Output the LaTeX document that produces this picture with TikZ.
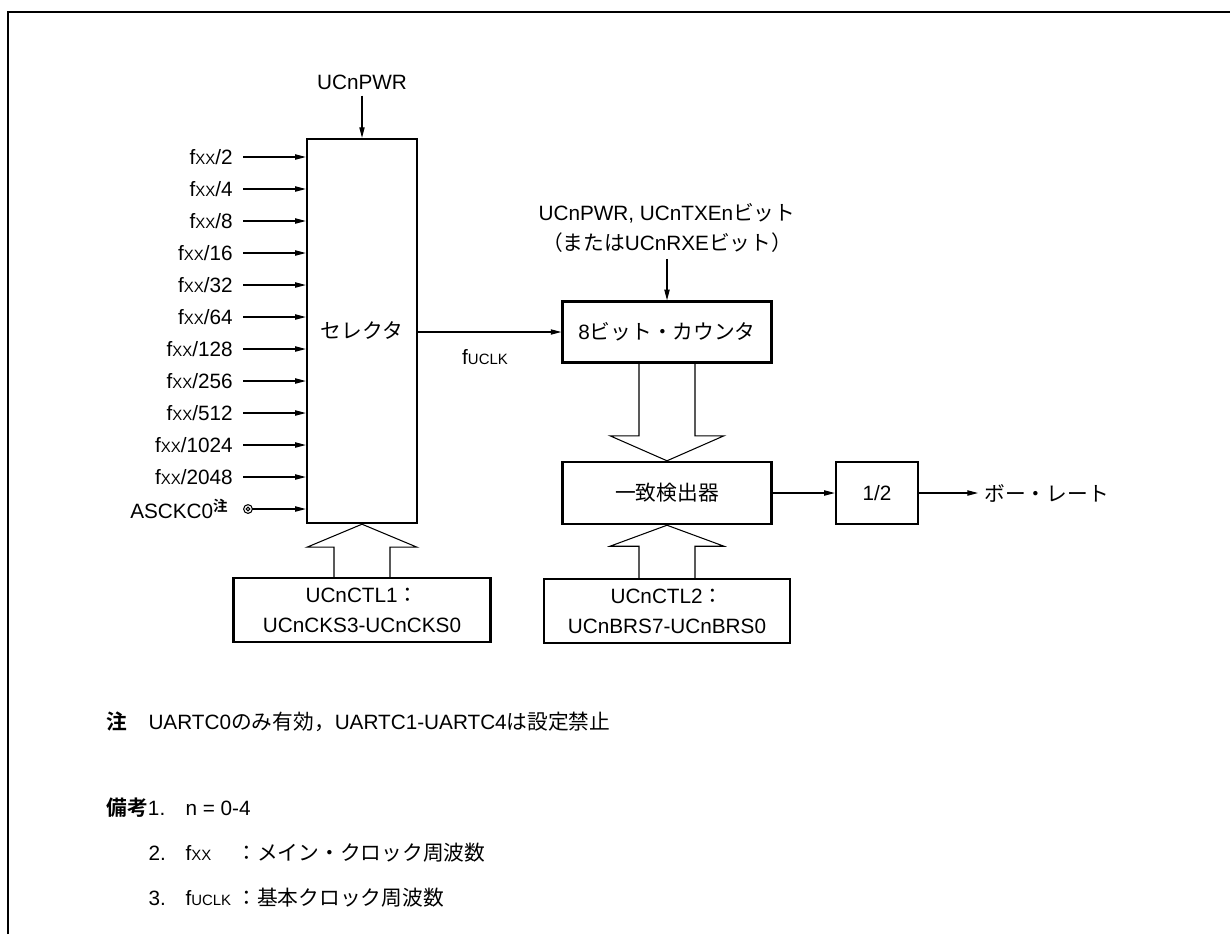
\documentclass[tikz,border=0pt]{standalone}
\usepackage{fontspec}
\setmainfont{Liberation Sans}
\newfontfamily\jp{Noto Sans CJK JP}
\newfontfamily\jpb{Noto Sans CJK JP Bold}
\usetikzlibrary{arrows.meta,calc}
\newcommand\subtxt[1]{{\fontsize{8.5}{8.5}\selectfont #1}}

\begin{document}
\begin{tikzpicture}[x=0.02cm, y=-0.02cm,
  every node/.style={font=\fontsize{11.8}{17}\selectfont},
  blk/.style={draw, line width=1.4pt, align=center, inner sep=0pt},
  lbl/.style={anchor=east, inner xsep=5.6pt, inner ysep=0pt},
  txt/.style={anchor=base west, inner sep=0pt},
  hollow/.style={line width=0.6pt},
  line width=0.6pt,
  >={Triangle[length=6pt,width=3pt]} ]
  \useasboundingbox (0,0) rectangle (1230,934);
  \draw[line width=1.6pt] (8,934) -- (8,12) -- (1230,12);

  % blocks
  \node[blk, minimum width=2.2cm, minimum height=7.68cm] (sel) at (362,331) {\jp セレクタ};
  \node[blk, minimum width=4.18cm, minimum height=1.22cm] (cnt) at (667,332) {8{\jp ビット・カウンタ}};
  \node[blk, minimum width=4.18cm, minimum height=1.24cm] (mat) at (667,493) {\jp 一致検出器};
  \node[blk, minimum width=1.64cm, minimum height=1.24cm] (half) at (877,493) {1/2};
  \node[blk, minimum width=5.14cm, minimum height=1.28cm] (ctl1) at (362,610) {UCnCTL1{\jp ：}\\UCnCKS3-UCnCKS0};
  \node[blk, minimum width=4.92cm, minimum height=1.28cm] (ctl2) at (667,611) {UCnCTL2{\jp ：}\\UCnBRS7-UCnBRS0};

  % clock inputs
  \foreach \d [count=\i] in {2,4,8,16,32,64,128,256,512,1024,2048} {
    \node[lbl] (in\i) at (243,{125+32*\i}) {f\subtxt{XX}/\d};
    \draw[->] (in\i.east) -- (in\i.east -| sel.west);
  }
  \node[lbl] (asck) at (239,509) {ASCKC0\textsuperscript{\jpb 注}};
  \coordinate (pin) at (248,509);
  \draw (pin) circle[radius=2.5pt] (pin) circle[radius=1.1pt];
  \draw[->] ([xshift=2.5pt]pin) -- (pin -| sel.west);

  % control inputs
  \node (pwr) at (362,82) {UCnPWR};
  \draw[->] (pwr) -- (sel.north);
  \node[align=center] (ctrl) at (667,228) {UCnPWR, UCnTXEn{\jp ビット}\\{\jp （または}UCnRXE{\jp ビット）}};
  \draw[->] (ctrl) -- (ctrl |- cnt.north);

  \draw[->] (sel.east |- cnt.west) -- (cnt.west);
  \node (fuclk) at (485,357) {f\subtxt{UCLK}};
  \draw[->] (mat) -- (half);
  \node[anchor=west] (baud) at (978,493) {\jp ボー・レート};
  \draw[->] (half) -- (baud);

  % bus arrows
  \draw[hollow] ($(ctl1.north)+(-28,0)$) |- ($(sel.south)+(-55,23)$) -- (sel.south)
    -- ($(sel.south)+(55,23)$) -| ($(ctl1.north)+(28,0)$);
  \draw[hollow] ($(cnt.south)+(-28,0)$) |- ($(mat.north)+(-57,-25)$) -- (mat.north)
    -- ($(mat.north)+(57,-25)$) -| ($(cnt.south)+(28,0)$);
  \draw[hollow] ($(ctl2.north)+(-28,0)$) |- ($(mat.south)+(-57,21)$) -- (mat.south)
    -- ($(mat.south)+(57,21)$) -| ($(ctl2.north)+(28,0)$);

  % notes
  \node[txt] (nt) at (106,729) {\jpb 注};
  \node[txt] (ntx) at (148,729) {UARTC0{\jp のみ有効，}UARTC1-UARTC4{\jp は設定禁止}};
  \node[txt] (rm1) at (106,815) {{\jpb 備考}1.};
  \node[txt] (rm1x) at (185,815) {n = 0-4};
  \node[txt] (rm2) at (148,860) {2.};
  \node[txt] (rm2a) at (185,860) {f\subtxt{XX}};
  \node[txt] (rm2b) at (236,860) {\jp ：メイン・クロック周波数};
  \node[txt] (rm3) at (148,905) {3.};
  \node[txt] (rm3a) at (185,905) {f\subtxt{UCLK}};
  \node[txt] (rm3b) at (236,905) {\jp ：基本クロック周波数};
\end{tikzpicture}
\end{document}
